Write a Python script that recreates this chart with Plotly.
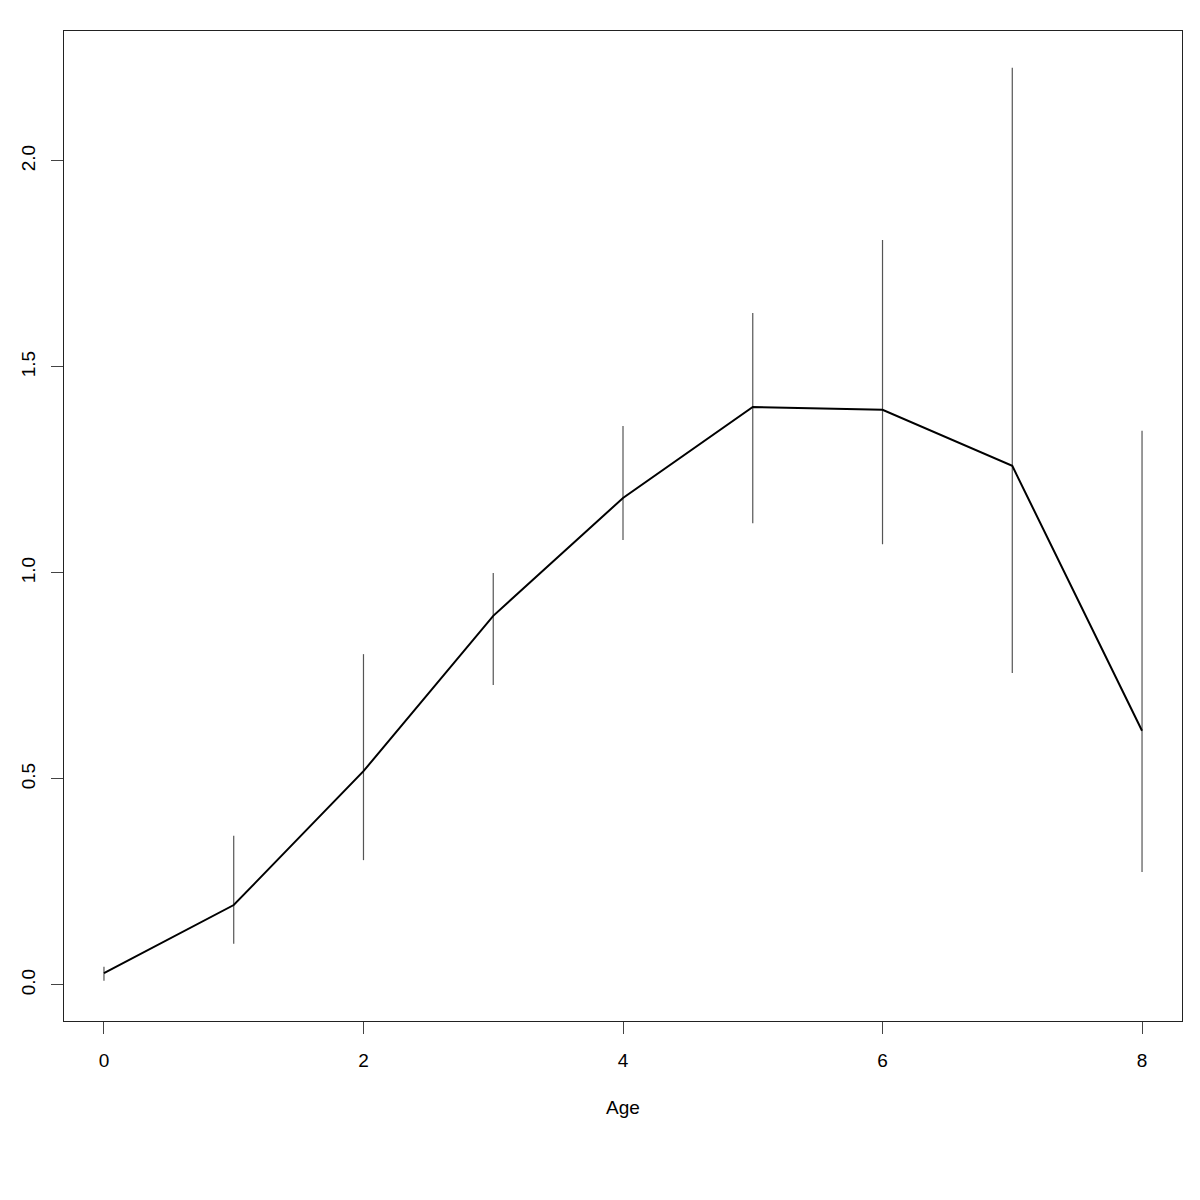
import plotly.graph_objects as go

# mean value by age, with lower / upper bounds of the interval
age = [0, 1, 2, 3, 4, 5, 6, 7, 8]
mean = [0.029, 0.194, 0.519, 0.896, 1.182, 1.403, 1.396, 1.260, 0.617]
lower = [0.010, 0.100, 0.303, 0.728, 1.080, 1.121, 1.070, 0.757, 0.274]
upper = [0.044, 0.362, 0.803, 1.000, 1.357, 1.631, 1.808, 2.226, 1.345]

err_plus = [u - m for u, m in zip(upper, mean)]
err_minus = [m - l for m, l in zip(mean, lower)]

fig = go.Figure()

# error bars only (no caps), grey like the R segments
fig.add_trace(go.Scatter(
    x=age, y=mean, mode="markers",
    marker=dict(size=0.1, color="rgba(0,0,0,0)"),
    error_y=dict(type="data", symmetric=False, array=err_plus, arrayminus=err_minus,
                 color="#555555", thickness=1.2, width=0),
    showlegend=False, hoverinfo="skip",
))

# mean line
fig.add_trace(go.Scatter(
    x=age, y=mean, mode="lines",
    line=dict(color="black", width=2),
    showlegend=False,
))

axis_font = dict(family="Liberation Sans, Arial, sans-serif", size=19, color="black")

# page body adds an 8px offset, so margins are shifted to compensate
fig.update_layout(
    width=1200, height=1200,
    margin=dict(l=56, r=26, t=23, b=187),
    plot_bgcolor="white", paper_bgcolor="white",
    font=axis_font,
)
fig.update_xaxes(
    range=[-0.308, 8.308],
    tickvals=[0, 2, 4, 6, 8], ticktext=["0", "2", "4", "6", "8"],
    showgrid=False, zeroline=False, automargin=False,
    showline=True, mirror=True, linecolor="#222222", linewidth=1,
    ticks="outside", ticklen=12, tickcolor="#444444",
    ticklabelstandoff=10,
    title=dict(text="Age", standoff=30, font=axis_font),
)
fig.update_yaxes(
    range=[-0.0874, 2.3155],
    tickvals=[0, 0.5, 1.0, 1.5, 2.0], ticktext=["0.0", "0.5", "1.0", "1.5", "2.0"],
    tickangle=-90,
    showgrid=False, zeroline=False, automargin=False,
    showline=True, mirror=True, linecolor="#222222", linewidth=1,
    ticks="outside", ticklen=12, tickcolor="#444444",
    ticklabelstandoff=8,
)

fig.write_html("out.html")
